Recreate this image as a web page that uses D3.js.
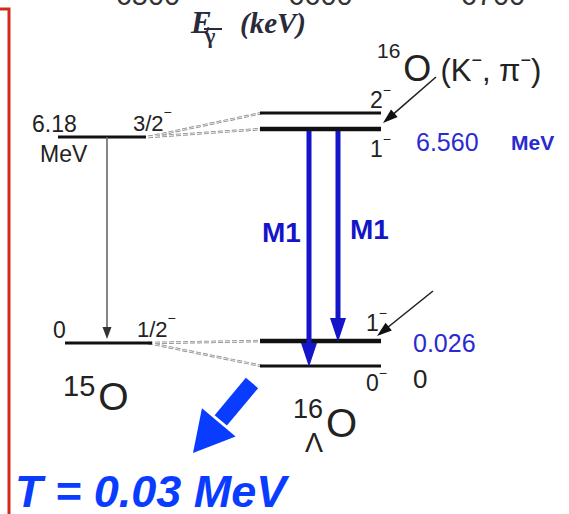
<!DOCTYPE html>
<html>
<head>
<meta charset="utf-8">
<script src="https://cdn.jsdelivr.net/npm/d3@7"></script>
<style>
  body { margin: 0; background: #fff; }
  text { font-family: "Liberation Sans", Arial, sans-serif; }
</style>
</head>
<body>
<svg id="vis"></svg>
<script>
// data
const gammaTicks = [6500, 6600, 6700];
const coreEnergies = [6.18, 0];            // 15O levels (MeV)
const coreSpins = ["3/2", "1/2"];
const coreLabels = ["6.18", "0"];
const hyperEnergies = [6.78, 6.56, 0.026, 0]; // 16ΛO levels (MeV)
const hyperSpins = ["2", "1", "1", "0"];
const hyperParent = [0, 0, 1, 1];           // which 15O level each doublet member couples to
const transFrom = [6.56, 6.56];
const transTo = [0, 0.026];
const transNames = ["M1", "M1"];

const W = 569, H = 514;
const svg = d3.select("#vis").attr("width", W).attr("height", H);

// scales
const xGamma = d3.scaleLinear().domain([6500, 6700]).range([148, 493]);
const yCore = d3.scaleLinear().domain([0, 6.18]).range([343, 137]);
const yHyper = d3.scaleLinear().domain([0, 0.026, 6.56, 6.78]).range([366, 341, 129, 113]);
const xTrans = d3.scalePoint().domain([0, 1]).range([309, 338]);

const blue = "#1414c8";
const brightBlue = "#0a3cff";

// arrowhead helper: triangle with tip at (x2,y2)
const head = (x1, y1, x2, y2, len, wid) => {
  const a = Math.atan2(y2 - y1, x2 - x1);
  const bx = x2 - len * Math.cos(a), by = y2 - len * Math.sin(a);
  const px = -Math.sin(a) * wid / 2, py = Math.cos(a) * wid / 2;
  return [[x2, y2], [bx + px, by + py], [bx - px, by - py]];
};

// red frame edge
svg.append("path")
  .attr("d", "M0,9 L9,9 L9," + H)
  .attr("fill", "none")
  .attr("stroke", "#d42a1a")
  .attr("stroke-width", 3);

// clipped top axis labels
svg.selectAll(".tick")
  .data(gammaTicks)
  .enter()
  .append("text")
  .attr("x", (d) => xGamma(d))
  .attr("y", 5)
  .attr("text-anchor", "middle")
  .attr("font-size", 29)
  .attr("fill", "#333")
  .text((d) => d);

// E_gamma (keV)
const serif = "'Liberation Serif', 'Times New Roman', serif";
svg.append("text")
  .attr("x", 191).attr("y", 33)
  .attr("font-family", serif).style("font-family", serif)
  .attr("font-weight", "bold").attr("font-style", "italic")
  .attr("font-size", 31).attr("fill", "#2a2a3a")
  .text("E");
svg.append("text")
  .attr("x", 205).attr("y", 43)
  .attr("font-family", serif).style("font-family", serif)
  .attr("font-weight", "bold")
  .attr("font-size", 22).attr("fill", "#2a2a3a")
  .text("γ");
svg.append("line")
  .attr("x1", 204).attr("x2", 222).attr("y1", 29).attr("y2", 29)
  .attr("stroke", "#2a2a3a").attr("stroke-width", 2);
svg.append("text")
  .attr("x", 240).attr("y", 33)
  .attr("font-family", serif).style("font-family", serif)
  .attr("font-weight", "bold").attr("font-style", "italic")
  .attr("font-size", 29).attr("fill", "#2a2a3a")
  .text("(keV)");

// dashed couplings 15O -> 16ΛO
svg.selectAll(".couple")
  .data(hyperEnergies)
  .enter()
  .append("line")
  .attr("x1", 148)
  .attr("y1", (d, i) => yCore(coreEnergies[hyperParent[i]]))
  .attr("x2", 262)
  .attr("y2", (d) => yHyper(d))
  .attr("stroke", "#8a8a8a")
  .attr("stroke-width", 2.5)
  .attr("stroke-dasharray", "5,2");
svg.selectAll(".coupleIn")
  .data(hyperEnergies)
  .enter()
  .append("line")
  .attr("x1", 148)
  .attr("y1", (d, i) => yCore(coreEnergies[hyperParent[i]]))
  .attr("x2", 262)
  .attr("y2", (d) => yHyper(d))
  .attr("stroke", "#fff")
  .attr("stroke-width", 0.8)
  .attr("stroke-dasharray", "5,2");

// 15O levels
svg.selectAll(".coreLevel")
  .data(coreEnergies)
  .enter()
  .append("line")
  .attr("x1", (d, i) => (i === 0 ? 58 : 65))
  .attr("x2", (d, i) => (i === 0 ? 146 : 152))
  .attr("y1", (d) => yCore(d))
  .attr("y2", (d) => yCore(d))
  .attr("stroke", "#111")
  .attr("stroke-width", 3);

// 15O gamma (gray)
svg.append("line")
  .attr("x1", 107).attr("x2", 107)
  .attr("y1", yCore(6.18)).attr("y2", yCore(0) - 12)
  .attr("stroke", "#666").attr("stroke-width", 1.6);
svg.append("polygon")
  .attr("points", head(107, yCore(6.18), 107, yCore(0) - 4, 12, 9).join(" "))
  .attr("fill", "#333");

// 15O labels
svg.selectAll(".coreE")
  .data(coreLabels)
  .enter()
  .append("text")
  .attr("x", (d, i) => (i === 0 ? 32 : 53))
  .attr("y", (d, i) => yCore(coreEnergies[i]) - 5)
  .attr("font-size", 23)
  .attr("fill", "#222")
  .text((d) => d);
svg.append("text")
  .attr("x", 40).attr("y", 162)
  .attr("font-size", 23).attr("fill", "#222")
  .text("MeV");
const coreSpinText = svg.selectAll(".coreSpin")
  .data(coreSpins)
  .enter()
  .append("text")
  .attr("x", (d, i) => (i === 0 ? 133 : 137))
  .attr("y", (d, i) => yCore(coreEnergies[i]) - 6)
  .attr("font-size", 22)
  .attr("fill", "#222");
coreSpinText.append("tspan").text((d) => d);
coreSpinText.append("tspan").attr("dy", -14).attr("font-size", 14).text("−");

// 16ΛO levels
svg.selectAll(".hyperLevel")
  .data(hyperEnergies)
  .enter()
  .append("line")
  .attr("x1", 260)
  .attr("x2", 381)
  .attr("y1", (d) => yHyper(d))
  .attr("y2", (d) => yHyper(d))
  .attr("stroke", "#111")
  .attr("stroke-width", (d, i) => (i === 1 || i === 2 ? 4.5 : 3));

// spin labels
const spinPos = [[370, 108], [370, 157], [366, 331], [366, 391]];
const hs = svg.selectAll(".hyperSpin")
  .data(hyperSpins)
  .enter()
  .append("text")
  .attr("x", (d, i) => spinPos[i][0])
  .attr("y", (d, i) => spinPos[i][1])
  .attr("font-size", 23)
  .attr("fill", "#222");
hs.append("tspan").text((d) => d);
hs.append("tspan").attr("dy", -13).attr("font-size", 14).text("−");

// M1 transitions
transFrom.forEach((f, i) => {
  const x = xTrans(i);
  const y1 = yHyper(f) + 2, y2 = yHyper(transTo[i]) + 1;
  svg.append("line")
    .attr("x1", x).attr("x2", x)
    .attr("y1", y1).attr("y2", y2 - 20)
    .attr("stroke", blue).attr("stroke-width", 5);
  svg.append("polygon")
    .attr("points", head(x, y1, x, y2, 24, 16).join(" "))
    .attr("fill", blue);
});
svg.selectAll(".m1")
  .data(transNames)
  .enter()
  .append("text")
  .attr("x", (d, i) => (i === 0 ? 262 : 350))
  .attr("y", (d, i) => (i === 0 ? 242 : 239))
  .attr("font-size", 28)
  .attr("font-weight", "bold")
  .attr("fill", blue)
  .text((d) => d);

// energy values
svg.append("text").attr("x", 416).attr("y", 151)
  .attr("font-size", 25).attr("fill", "#2a2ad0").text("6.560");
svg.append("text").attr("x", 511).attr("y", 150)
  .attr("font-size", 21).attr("font-weight", "bold")
  .attr("fill", "#2a2ad0").text("MeV");
svg.append("text").attr("x", 413).attr("y", 352)
  .attr("font-size", 25).attr("fill", "#2a2ad0").text("0.026");
svg.append("text").attr("x", 413).attr("y", 388)
  .attr("font-size", 26).attr("fill", "#222").text("0");

// 16O(K-,pi-) label + arrows
const reac = svg.append("text").attr("x", 377).attr("y", 81).attr("fill", "#222");
reac.append("tspan").attr("font-size", 21).attr("dy", -23).text("16");
reac.append("tspan").attr("font-size", 36).attr("dy", 23).attr("dx", 3).text("O");
reac.append("tspan").attr("font-size", 31).attr("dx", 9).text("(K");
reac.append("tspan").attr("font-size", 18).attr("dy", -15).text("−");
reac.append("tspan").attr("font-size", 31).attr("dy", 15).text(", π");
reac.append("tspan").attr("font-size", 18).attr("dy", -15).text("−");
reac.append("tspan").attr("font-size", 31).attr("dy", 15).text(")");

[[436, 77, 383, 123], [433, 291, 377, 336]].forEach(([x1, y1, x2, y2]) => {
  svg.append("line")
    .attr("x1", x1).attr("y1", y1).attr("x2", (x1 + 5 * x2) / 6).attr("y2", (y1 + 5 * y2) / 6)
    .attr("stroke", "#222").attr("stroke-width", 1.6);
  svg.append("polygon")
    .attr("points", head(x1, y1, x2, y2, 15, 10).join(" "))
    .attr("fill", "#111");
});

// nucleus names
const n15 = svg.append("text").attr("x", 63).attr("y", 410).attr("fill", "#222");
n15.append("tspan").attr("font-size", 29).attr("dy", -14).text("15");
n15.append("tspan").attr("font-size", 39).attr("dy", 14).attr("dx", 3).text("O");

svg.append("text").attr("x", 293).attr("y", 418)
  .attr("font-size", 27).attr("fill", "#222").text("16");
svg.append("text").attr("x", 305).attr("y", 452)
  .attr("font-size", 27).attr("fill", "#222").text("Λ");
svg.append("text").attr("x", 326).attr("y", 437)
  .attr("font-size", 40).attr("fill", "#222").text("O");

// big blue arrow
const tail = [252, 383], tip = [193, 453];
const hd = head(tail[0], tail[1], tip[0], tip[1], 40, 44);
svg.append("line")
  .attr("x1", tail[0]).attr("y1", tail[1])
  .attr("x2", (hd[1][0] + hd[2][0]) / 2 + 2).attr("y2", (hd[1][1] + hd[2][1]) / 2 - 2)
  .attr("stroke", brightBlue).attr("stroke-width", 16);
svg.append("polygon").attr("points", hd.join(" ")).attr("fill", brightBlue);

// temperature
svg.append("text")
  .attr("x", 15).attr("y", 507)
  .attr("font-size", 45)
  .attr("font-weight", "bold")
  .attr("font-style", "italic")
  .attr("fill", brightBlue)
  .text("T = 0.03 MeV");
</script>
</body>
</html>
